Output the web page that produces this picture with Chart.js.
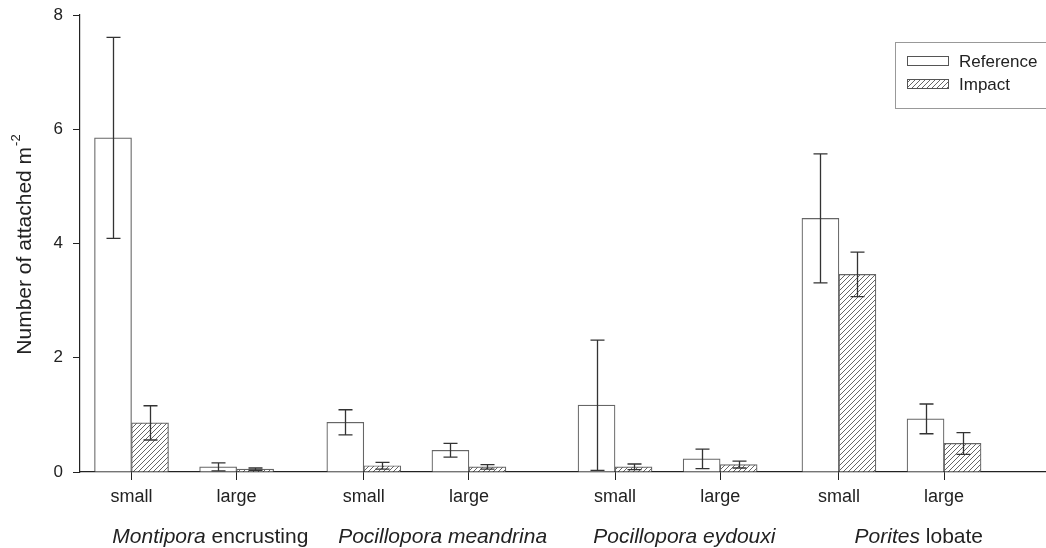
<!DOCTYPE html>
<html>
<head>
<meta charset="utf-8">
<script src="https://cdn.jsdelivr.net/npm/chart.js@4.4.1/dist/chart.umd.min.js"></script>
<style>
  html, body { margin: 0; padding: 0; background: #fff; }
  #wrap { width: 1046px; height: 548px; }
</style>
</head>
<body>
<div id="wrap"><canvas id="coralChart" width="1046" height="548"></canvas></div>
<script>
// categories: size class under each tick, and its position on the x axis
const sizeLabels = ['small', 'large', 'small', 'large', 'small', 'large', 'small', 'large'];
const xPos = [1, 2, 3.21, 4.21, 5.6, 6.6, 7.73, 8.73];

// species names under each pair (italic part + plain part)
const speciesNames = [
    [['Montipora', true], [' encrusting', false]],
    [['Pocillopora meandrina', true]],
    [['Pocillopora eydouxi', true]],
    [['Porites', true], [' lobate', false]]
];
const speciesPos = [1.75, 3.96, 6.26, 8.49];

// means and error (+/-) per category
const referenceMeans = [5.85, 0.09, 0.87, 0.38, 1.17, 0.23, 4.44, 0.93];
const referenceErr   = [1.76, 0.07, 0.22, 0.12, 1.14, 0.17, 1.13, 0.26];
const impactMeans    = [0.86, 0.05, 0.11, 0.09, 0.09, 0.13, 3.46, 0.50];
const impactErr      = [0.30, 0.02, 0.06, 0.04, 0.05, 0.06, 0.39, 0.19];

const yTicks = [0, 2, 4, 6, 8];

const FONT = '"Liberation Sans", Arial, Helvetica, sans-serif';
const INK = '#222';

// diagonal hatch like the original ////
function makeHatch() {
    const c = document.createElement('canvas');
    c.width = 5; c.height = 5;
    const g = c.getContext('2d');
    g.fillStyle = '#fff';
    g.fillRect(0, 0, 5, 5);
    g.strokeStyle = '#555';
    g.lineWidth = 0.9;
    g.beginPath();
    g.moveTo(0, 5); g.lineTo(5, 0);
    g.moveTo(-1, 1); g.lineTo(1, -1);
    g.moveTo(4, 6); g.lineTo(6, 4);
    g.stroke();
    return g.createPattern(c, 'repeat');
}
const hatch = makeHatch();

const errorBars = {
    id: 'errorBars',
    afterDatasetsDraw(chart) {
        const ctx = chart.ctx;
        const y = chart.scales.y;
        ctx.save();
        ctx.strokeStyle = '#333';
        ctx.lineWidth = 1.3;
        chart.data.datasets.forEach((ds, di) => {
            const meta = chart.getDatasetMeta(di);
            meta.data.forEach((bar, i) => {
                const m = ds.data[i].y;
                const e = ds.err[i];
                const top = y.getPixelForValue(m + e);
                const bot = y.getPixelForValue(Math.max(0, m - e));
                const cx = Math.round(bar.x) + 0.5;
                ctx.beginPath();
                ctx.moveTo(cx, top); ctx.lineTo(cx, bot);
                ctx.moveTo(cx - 7, top); ctx.lineTo(cx + 7, top);
                ctx.moveTo(cx - 7, bot); ctx.lineTo(cx + 7, bot);
                ctx.stroke();
            });
        });
        ctx.restore();
    }
};

const speciesRow = {
    id: 'speciesRow',
    afterDraw(chart) {
        const ctx = chart.ctx;
        const x = chart.scales.x;
        ctx.save();
        ctx.fillStyle = INK;
        ctx.textBaseline = 'middle';
        ctx.textAlign = 'left';
        speciesNames.forEach((parts, k) => {
            let w = 0;
            parts.forEach(([t, it]) => {
                ctx.font = (it ? 'italic ' : '') + '21px ' + FONT;
                w += ctx.measureText(t).width;
            });
            let px = x.getPixelForValue(speciesPos[k]) - w / 2;
            parts.forEach(([t, it]) => {
                ctx.font = (it ? 'italic ' : '') + '21px ' + FONT;
                ctx.fillText(t, px, 537);
                px += ctx.measureText(t).width;
            });
        });
        ctx.restore();
    }
};

// y title with a real superscript
const yTitle = {
    id: 'yTitle',
    afterDraw(chart) {
        const ctx = chart.ctx;
        const a = chart.chartArea;
        const main = 'Number of attached m';
        const sup = '-2';
        ctx.save();
        ctx.translate(25, (a.top + a.bottom) / 2 + 1);
        ctx.rotate(-Math.PI / 2);
        ctx.fillStyle = INK;
        ctx.textBaseline = 'middle';
        ctx.textAlign = 'left';
        ctx.font = '21px ' + FONT;
        const w1 = ctx.measureText(main).width;
        ctx.font = '13px ' + FONT;
        const w2 = ctx.measureText(sup).width;
        const start = -(w1 + w2 + 1) / 2;
        ctx.font = '21px ' + FONT;
        ctx.fillText(main, start, 0);
        ctx.font = '13px ' + FONT;
        ctx.fillText(sup, start + w1 + 1, -9);
        ctx.restore();
    }
};

const boxLegend = {
    id: 'boxLegend',
    afterDraw(chart) {
        const ctx = chart.ctx;
        ctx.save();
        ctx.strokeStyle = '#999';
        ctx.lineWidth = 1;
        ctx.fillStyle = '#fff';
        ctx.fillRect(895, 42, 160, 66);
        ctx.strokeRect(895.5, 42.5, 160, 66);
        chart.data.datasets.forEach((ds, i) => {
            const yy = 61 + i * 23;
            ctx.fillStyle = ds.backgroundColor;
            ctx.fillRect(907, yy - 4, 41, 9);
            ctx.strokeStyle = '#555';
            ctx.strokeRect(907.5, yy - 4.5, 41, 9);
            ctx.fillStyle = INK;
            ctx.font = '17px ' + FONT;
            ctx.textBaseline = 'middle';
            ctx.textAlign = 'left';
            ctx.fillText(ds.label, 959, yy + 1);
        });
        ctx.restore();
    }
};

new Chart(document.getElementById('coralChart'), {
    type: 'bar',
    data: {
        datasets: [
            {
                label: 'Reference',
                data: xPos.map((v, i) => ({ x: v, y: referenceMeans[i] })),
                err: referenceErr,
                backgroundColor: '#fff',
                borderColor: '#666',
                borderWidth: 1.2
            },
            {
                label: 'Impact',
                data: xPos.map((v, i) => ({ x: v, y: impactMeans[i] })),
                err: impactErr,
                backgroundColor: hatch,
                borderColor: '#666',
                borderWidth: 1.2
            }
        ]
    },
    options: {
        responsive: false,
        animation: false,
        devicePixelRatio: 1,
        barThickness: 37,
        layout: { padding: { top: 15, right: 0, left: 0, bottom: 0 } },
        plugins: { legend: { display: false }, tooltip: { enabled: false } },
        scales: {
            x: {
                type: 'linear',
                min: 0.51,
                max: 9.70,
                offset: false,
                grid: { display: true, drawOnChartArea: false, drawTicks: true, tickLength: 8, color: INK, offset: false },
                border: { display: true, color: INK, width: 1.2 },
                afterBuildTicks: s => { s.ticks = xPos.map(v => ({ value: v })); },
                afterFit: s => { s.height = 76; },
                ticks: {
                    autoSkip: false,
                    maxRotation: 0,
                    padding: 6,
                    color: INK,
                    font: { family: FONT, size: 18 },
                    callback: (v, i) => sizeLabels[i]
                }
            },
            y: {
                min: 0,
                max: 8,
                afterBuildTicks: s => { s.ticks = yTicks.map(v => ({ value: v })); },
                afterFit: s => { s.width = 80; s.paddingTop = 0; s.paddingBottom = 0; },
                grid: { display: true, drawOnChartArea: false, drawTicks: true, tickLength: 7, color: INK },
                border: { display: true, color: INK, width: 1.2 },
                ticks: { padding: 10, color: INK, font: { family: FONT, size: 17 } }
            }
        }
    },
    plugins: [errorBars, speciesRow, yTitle, boxLegend]
});
</script>
</body>
</html>
